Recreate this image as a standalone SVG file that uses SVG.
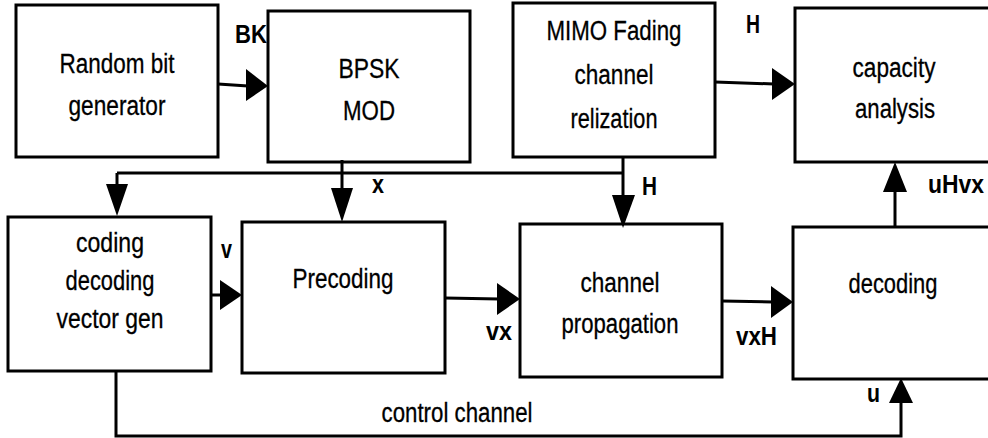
<svg xmlns="http://www.w3.org/2000/svg" width="988" height="438" viewBox="0 0 988 438">
  <style>
    .box { fill: #ffffff; stroke: #000000; stroke-width: 3; }
    .wire { fill: none; stroke: #000000; stroke-width: 3; }
    .head { fill: #000000; stroke: none; }
    .t { font-family: "Liberation Sans", Arial, sans-serif; font-size: 27px; fill: #000000; stroke: #000000; stroke-width: 0.3; text-anchor: middle; }
    .lbl { font-family: "Liberation Sans", Arial, sans-serif; font-size: 25px; font-weight: bold; fill: #000000; }
  </style>
  <rect width="988" height="438" fill="#ffffff"/>

  <!-- blocks -->
  <g id="random-bit-generator">
    <rect class="box" x="16" y="5" width="202" height="152"/>
    <text class="t" x="117" y="73" textLength="115" lengthAdjust="spacingAndGlyphs">Random bit</text>
    <text class="t" x="117" y="115" textLength="97" lengthAdjust="spacingAndGlyphs">generator</text>
  </g>
  <g id="bpsk-mod">
    <rect class="box" x="268" y="11" width="202" height="151"/>
    <text class="t" x="369" y="78" textLength="61" lengthAdjust="spacingAndGlyphs">BPSK</text>
    <text class="t" x="369" y="120" textLength="52" lengthAdjust="spacingAndGlyphs">MOD</text>
  </g>
  <g id="mimo-fading">
    <rect class="box" x="513" y="3" width="202" height="154"/>
    <text class="t" x="614" y="40" textLength="135" lengthAdjust="spacingAndGlyphs">MIMO Fading</text>
    <text class="t" x="614" y="84" textLength="79" lengthAdjust="spacingAndGlyphs">channel</text>
    <text class="t" x="614" y="128" textLength="87" lengthAdjust="spacingAndGlyphs">relization</text>
  </g>
  <g id="capacity-analysis">
    <rect class="box" x="795" y="8" width="210" height="154"/>
    <text class="t" x="894" y="77" textLength="83" lengthAdjust="spacingAndGlyphs">capacity</text>
    <text class="t" x="895" y="118" textLength="80" lengthAdjust="spacingAndGlyphs">analysis</text>
  </g>
  <g id="coding-vector-gen">
    <rect class="box" x="8" y="217" width="203" height="154"/>
    <text class="t" x="110" y="252" textLength="68" lengthAdjust="spacingAndGlyphs">coding</text>
    <text class="t" x="110" y="290" textLength="89" lengthAdjust="spacingAndGlyphs">decoding</text>
    <text class="t" x="110" y="328" textLength="107" lengthAdjust="spacingAndGlyphs">vector gen</text>
  </g>
  <g id="precoding">
    <rect class="box" x="242" y="222" width="203" height="151"/>
    <text class="t" x="343" y="288" textLength="101" lengthAdjust="spacingAndGlyphs">Precoding</text>
  </g>
  <g id="channel-propagation">
    <rect class="box" x="520" y="224" width="202" height="153"/>
    <text class="t" x="620" y="292" textLength="79" lengthAdjust="spacingAndGlyphs">channel</text>
    <text class="t" x="620" y="333" textLength="117" lengthAdjust="spacingAndGlyphs">propagation</text>
  </g>
  <g id="decoding">
    <rect class="box" x="793" y="227" width="210" height="152"/>
    <text class="t" x="893" y="293" textLength="89" lengthAdjust="spacingAndGlyphs">decoding</text>
  </g>

  <!-- connectors -->
  <g id="connectors">
    <!-- random bits to modulator -->
    <path class="wire" d="M218,84 L248,86"/>
    <polygon class="head" points="246,69 268,86 246,101"/>
    <!-- channel matrix to capacity analysis -->
    <path class="wire" d="M715,82 L774,84"/>
    <polygon class="head" points="772,68 795,84 772,100"/>
    <!-- distribution bus -->
    <path class="wire" d="M117,173 L623,173"/>
    <path class="wire" d="M117,173 L117,186"/>
    <polygon class="head" points="106,184 128,184 117,216"/>
    <path class="wire" d="M342,160 L342,190"/>
    <polygon class="head" points="331,188 353,188 342,222"/>
    <path class="wire" d="M623,157 L623,197"/>
    <polygon class="head" points="612,195 635,195 623,228"/>
    <!-- forward chain -->
    <path class="wire" d="M211,295 L222,295"/>
    <polygon class="head" points="220,280 242,295 220,310"/>
    <path class="wire" d="M445,298 L499,299"/>
    <polygon class="head" points="497,283 520,299 497,315"/>
    <path class="wire" d="M722,301 L773,302"/>
    <polygon class="head" points="771,286 793,302 771,318"/>
    <!-- decoder output to capacity analysis -->
    <path class="wire" d="M895,227 L895,190"/>
    <polygon class="head" points="883,192 907,192 895,162"/>
    <!-- control channel -->
    <path class="wire" d="M116,371 L116,436 L901,436 L901,401"/>
    <polygon class="head" points="889,403 913,403 901,378"/>
  </g>

  <!-- signal labels -->
  <g id="labels">
    <text class="lbl" x="235" y="43" textLength="32" lengthAdjust="spacingAndGlyphs">BK</text>
    <text class="lbl" x="746" y="33" textLength="14" lengthAdjust="spacingAndGlyphs">H</text>
    <text class="lbl" x="372" y="193" textLength="12" lengthAdjust="spacingAndGlyphs">x</text>
    <text class="lbl" x="642" y="195" textLength="15" lengthAdjust="spacingAndGlyphs">H</text>
    <text class="lbl" x="221" y="258" textLength="11" lengthAdjust="spacingAndGlyphs">v</text>
    <text class="lbl" x="486" y="340" textLength="26" lengthAdjust="spacingAndGlyphs">vx</text>
    <text class="lbl" x="736" y="345" textLength="41" lengthAdjust="spacingAndGlyphs">vxH</text>
    <text class="lbl" x="928" y="193" textLength="56" lengthAdjust="spacingAndGlyphs">uHvx</text>
    <text class="lbl" x="867" y="402" textLength="13" lengthAdjust="spacingAndGlyphs">u</text>
    <text class="t" x="457" y="422" textLength="151" lengthAdjust="spacingAndGlyphs">control channel</text>
  </g>
</svg>
